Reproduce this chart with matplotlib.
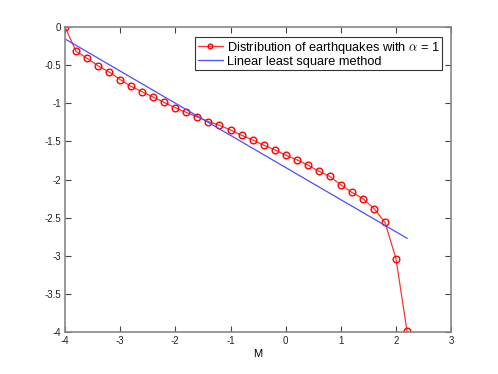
import matplotlib
matplotlib.use("Agg")
import matplotlib.pyplot as plt

plt.rcParams['font.family'] = ['Liberation Sans', 'DejaVu Sans']
plt.rcParams['mathtext.fontset'] = 'cm'
plt.rcParams['axes.unicode_minus'] = False

# distribution of earthquakes (log scale)
mags = [-4.0, -3.8, -3.6, -3.4, -3.2, -3.0, -2.8, -2.6, -2.4, -2.2, -2.0,
        -1.8, -1.6, -1.4, -1.2, -1.0, -0.8, -0.6, -0.4, -0.2, 0.0,
        0.2, 0.4, 0.6, 0.8, 1.0, 1.2, 1.4, 1.6, 1.8, 2.0, 2.2]
logN = [0.0, -0.32, -0.41, -0.51, -0.59, -0.69, -0.78, -0.85, -0.92, -0.99, -1.06,
        -1.12, -1.18, -1.24, -1.29, -1.35, -1.42, -1.48, -1.55, -1.61, -1.68,
        -1.74, -1.81, -1.89, -1.96, -2.07, -2.17, -2.25, -2.38, -2.56, -3.04, -3.99]

# least square line endpoints
fit_x = [-4.0, 2.2]
fit_y = [-0.157, -2.77]

xticks = [-4, -3, -2, -1, 0, 1, 2, 3]
yticks = [0, -0.5, -1, -1.5, -2, -2.5, -3, -3.5, -4]
ytick_labels = ["0", "-0.5", "-1", "-1.5", "-2", "-2.5", "-3", "-3.5", "-4"]

fig = plt.figure(figsize=(4.98, 3.74), dpi=100)
ax = fig.add_axes([0.1305, 0.112, 0.7755, 0.816])

ax.plot(mags, logN, color=(1, 0.2, 0.2), lw=0.9, marker='o', ms=4.8,
        mfc='none', mec='red', mew=1.0,
        label=r'Distribution of earthquakes with $\alpha$ = 1')
ax.plot(fit_x, fit_y, color=(0.3, 0.3, 1), lw=0.9, label='Linear least square method')

ax.set_xlim(-4, 3)
ax.set_ylim(-4, 0)
ax.set_xticks(xticks)
ax.set_yticks(yticks)
ax.set_yticklabels(ytick_labels)
ax.tick_params(direction='in', top=True, right=True, labelsize=7, length=4,
               color='#444444', labelcolor='#222222', pad=3)
for s in ax.spines.values():
    s.set_color('#888888')
    s.set_linewidth(1.2)
ax.set_xlabel('M', fontsize=8, labelpad=2)

leg = ax.legend(loc='upper right', bbox_to_anchor=(0.977, 0.967), fontsize=9.2,
                fancybox=False, framealpha=1, edgecolor='#333333',
                borderpad=0.2, labelspacing=0.0, handlelength=2.0,
                handletextpad=0.3, borderaxespad=0.0, markerscale=0.7)
leg.get_frame().set_linewidth(0.8)

fig.savefig('out.png', dpi=100)
